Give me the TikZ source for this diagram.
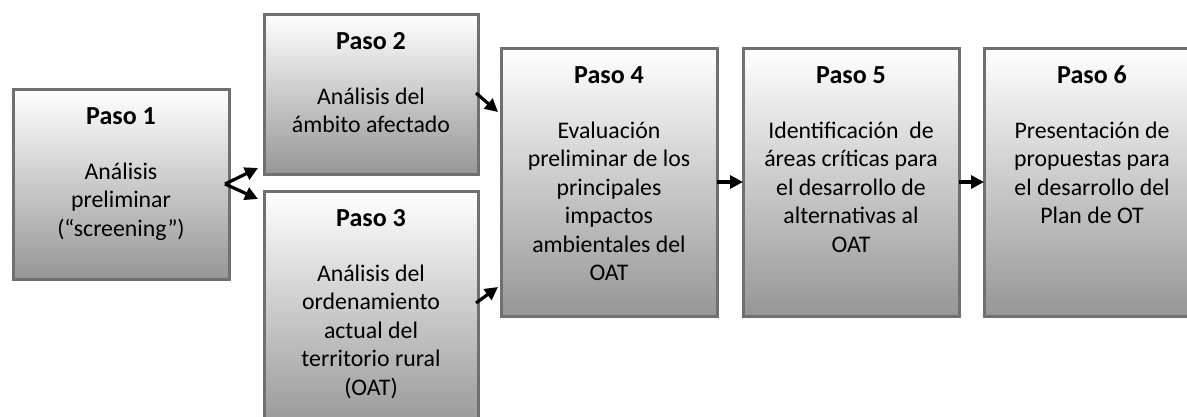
\documentclass[tikz,border=0pt]{standalone}
\usepackage{fontspec}
\setmainfont{Carlito}
\usetikzlibrary{arrows.meta,shadows}
\definecolor{bordergray}{RGB}{112,112,112}
\definecolor{shadowgray}{RGB}{170,170,170}
\definecolor{boxbottom}{RGB}{150,150,150}
\begin{document}
\begin{tikzpicture}[x=1pt,y=1pt,
  stepbox/.style={draw=bordergray, line width=3pt, top color=white, bottom color=boxbottom,
    anchor=north west, inner sep=0pt, outer sep=0pt,
    general shadow={shadow xshift=2pt, shadow yshift=-2pt, fill=shadowgray}},
  ttl/.style={anchor=base, inner sep=0pt, font=\fontsize{26}{30}\selectfont\bfseries},
  body/.style={anchor=north, inner sep=0pt, align=center, font=\fontsize{23.8}{28.5}\selectfont},
  arr/.style={line width=3.2pt, -{Triangle[length=13pt,width=13pt]}}
]
\clip (0,0) rectangle (1187,-416);
\fill[white] (0,0) rectangle (1187,-416);
% boxes
\node[stepbox, minimum width=216, minimum height=190] (b1) at (13,-89) {};
\node[stepbox, minimum width=214, minimum height=160] (b2) at (264,-14) {};
\node[stepbox, minimum width=214, minimum height=240] (b3) at (264,-191) {};
\node[stepbox, minimum width=216, minimum height=268] (b4) at (501,-48) {};
\node[stepbox, minimum width=216, minimum height=268] (b5) at (743,-48) {};
\node[stepbox, minimum width=216, minimum height=268] (b6) at (984,-48) {};
% titles
\node[ttl] (t1) at ([yshift=-35]b1.north) {Paso 1};
\node[ttl] (t2) at ([yshift=-35]b2.north) {Paso 2};
\node[ttl] (t3) at ([yshift=-35]b3.north) {Paso 3};
\node[ttl] (t4) at ([yshift=-35]b4.north) {Paso 4};
\node[ttl] (t5) at ([yshift=-35]b5.north) {Paso 5};
\node[ttl] (t6) at ([yshift=-35]b6.north) {Paso 6};
% bodies
\node[body] (d1) at ([yshift=-68]b1.north) {\rule{0pt}{22pt}Análisis\\preliminar\\(“screening”)};
\node[body] (d2) at ([yshift=-68]b2.north) {\rule{0pt}{22pt}Análisis del\\ámbito afectado};
\node[body] (d3) at ([yshift=-68]b3.north) {\rule{0pt}{22pt}Análisis del\\ordenamiento\\actual del\\territorio rural\\(OAT)};
\node[body] (d4) at ([yshift=-68]b4.north) {\rule{0pt}{22pt}Evaluación\\preliminar de los\\principales\\impactos\\ambientales del\\OAT};
\node[body] (d5) at ([yshift=-68]b5.north) {\rule{0pt}{22pt}Identificación~~de\\áreas críticas para\\el desarrollo de\\alternativas al\\OAT};
\node[body] (d6) at ([yshift=-68]b6.north) {\rule{0pt}{22pt}Presentación de\\propuestas para\\el desarrollo del\\Plan de OT};
% connectors
\draw[arr] ([xshift=-4]b1.east) -- ([shift={(-6,6)}]b2.south west);
\draw[arr] ([xshift=-4]b1.east) -- ([shift={(-6,-8)}]b3.north west);
\draw[arr] ([shift={(-2,-79)}]b2.north east) -- ([shift={(-3,-64)}]b4.north west);
\draw[arr] ([shift={(-2,-112)}]b3.north east) -- ([shift={(-3,-239)}]b4.north west);
\draw[arr] (b4.east) -- (b5.west);
\draw[arr] (b5.east) -- (b6.west);
\end{tikzpicture}
\end{document}
